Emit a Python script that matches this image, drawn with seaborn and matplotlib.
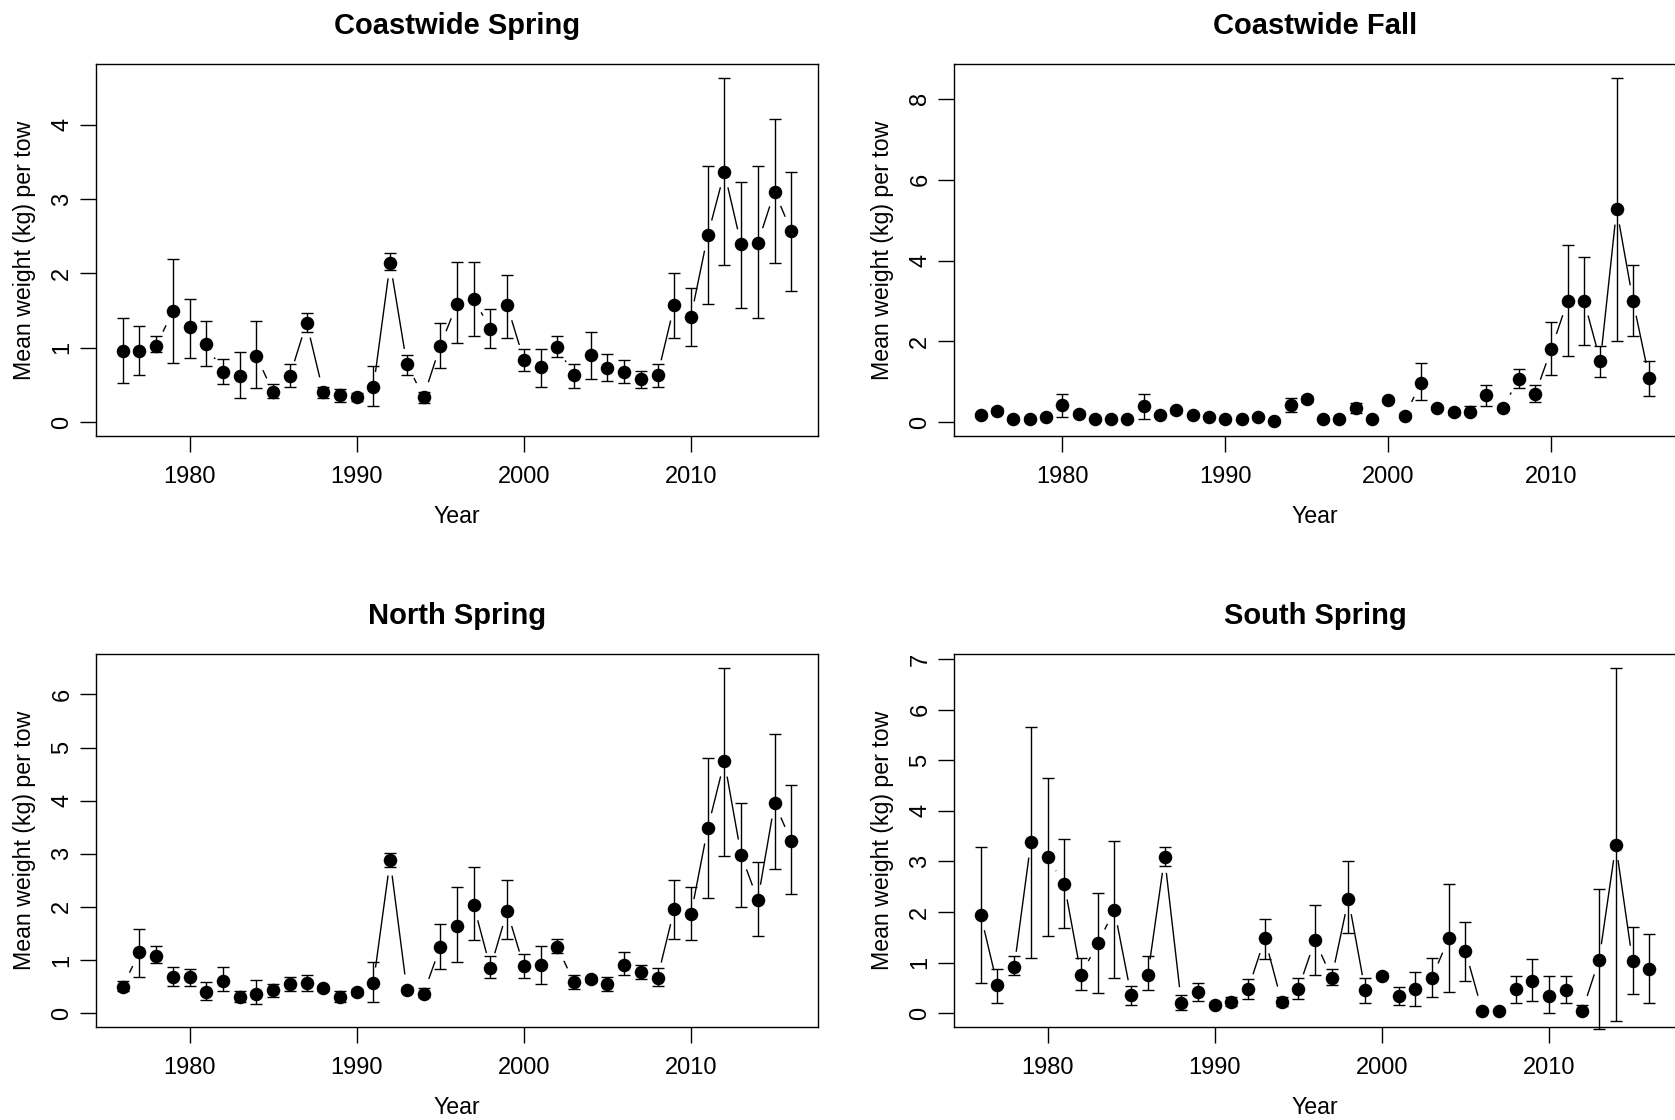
import numpy as np
import matplotlib
matplotlib.use('Agg')
import matplotlib.pyplot as plt
import seaborn as sns
from matplotlib.collections import LineCollection

# ---- data ----
years_spring = np.arange(1976, 2017)
years_fall = np.arange(1975, 2017)

cw_spring_mean = [0.96, 0.96, 1.03, 1.49, 1.28, 1.05, 0.67, 0.62, 0.89, 0.40,
                  0.62, 1.34, 0.40, 0.36, 0.34, 0.47, 2.14, 0.78, 0.34, 1.03,
                  1.59, 1.66, 1.25, 1.57, 0.84, 0.74, 1.01, 0.63, 0.90, 0.73,
                  0.68, 0.58, 0.63, 1.57, 1.42, 2.51, 3.36, 2.39, 2.41, 3.10, 2.57]
cw_spring_lo = [0.53, 0.63, 0.94, 0.80, 0.86, 0.75, 0.51, 0.32, 0.46, 0.32,
                0.48, 1.21, 0.33, 0.27, 0.29, 0.22, 2.04, 0.63, 0.26, 0.73,
                1.07, 1.16, 1.00, 1.13, 0.69, 0.48, 0.87, 0.46, 0.58, 0.56,
                0.53, 0.46, 0.48, 1.13, 1.03, 1.59, 2.12, 1.54, 1.40, 2.14, 1.76]
cw_spring_hi = [1.40, 1.30, 1.16, 2.20, 1.66, 1.36, 0.85, 0.95, 1.36, 0.51,
                0.78, 1.47, 0.47, 0.44, 0.39, 0.75, 2.27, 0.90, 0.40, 1.33,
                2.15, 2.15, 1.52, 1.98, 0.99, 0.99, 1.16, 0.78, 1.21, 0.92,
                0.83, 0.69, 0.78, 2.00, 1.81, 3.44, 4.63, 3.23, 3.44, 4.07, 3.37]

cw_fall_mean = [0.18, 0.28, 0.08, 0.08, 0.12, 0.43, 0.21, 0.07, 0.07, 0.07,
                0.39, 0.17, 0.29, 0.17, 0.12, 0.07, 0.07, 0.12, 0.02, 0.43,
                0.57, 0.07, 0.07, 0.35, 0.07, 0.55, 0.16, 0.97, 0.35, 0.25,
                0.25, 0.68, 0.35, 1.07, 0.69, 1.82, 3.01, 3.01, 1.51, 5.27,
                3.01, 1.09]
cw_fall_lo = [0.12, 0.22, 0.03, 0.03, 0.07, 0.14, 0.15, 0.03, 0.03, 0.03,
              0.08, 0.12, 0.23, 0.12, 0.07, 0.03, 0.03, 0.07, 0.00, 0.26,
              0.50, 0.03, 0.03, 0.22, 0.03, 0.49, 0.10, 0.54, 0.29, 0.19,
              0.20, 0.41, 0.29, 0.84, 0.49, 1.16, 1.65, 1.90, 1.11, 2.00,
              2.13, 0.66]
cw_fall_hi = [0.24, 0.34, 0.12, 0.12, 0.17, 0.70, 0.27, 0.11, 0.11, 0.11,
              0.70, 0.22, 0.35, 0.22, 0.17, 0.11, 0.11, 0.17, 0.06, 0.60,
              0.64, 0.11, 0.11, 0.47, 0.11, 0.61, 0.22, 1.46, 0.41, 0.31,
              0.39, 0.93, 0.41, 1.32, 0.93, 2.48, 4.38, 4.09, 1.89, 8.52,
              3.90, 1.51]

north_mean = [0.50, 1.15, 1.08, 0.68, 0.68, 0.40, 0.61, 0.30, 0.37, 0.44,
              0.55, 0.57, 0.47, 0.30, 0.40, 0.57, 2.88, 0.44, 0.37, 1.25,
              1.65, 2.03, 0.85, 1.92, 0.88, 0.91, 1.25, 0.58, 0.64, 0.55,
              0.91, 0.77, 0.67, 1.96, 1.86, 3.48, 4.74, 2.98, 2.13, 3.95, 3.24]
north_lo = [0.41, 0.69, 0.94, 0.52, 0.52, 0.24, 0.41, 0.21, 0.18, 0.31,
            0.41, 0.41, 0.42, 0.21, 0.35, 0.21, 2.75, 0.39, 0.30, 0.83,
            0.96, 1.37, 0.66, 1.39, 0.66, 0.55, 1.13, 0.45, 0.59, 0.41,
            0.72, 0.65, 0.52, 1.40, 1.37, 2.17, 2.96, 2.00, 1.46, 2.71, 2.25]
north_hi = [0.60, 1.59, 1.26, 0.86, 0.83, 0.59, 0.86, 0.41, 0.63, 0.55,
            0.69, 0.72, 0.52, 0.41, 0.45, 0.96, 3.01, 0.49, 0.47, 1.67,
            2.37, 2.75, 1.08, 2.51, 1.11, 1.26, 1.39, 0.72, 0.69, 0.68,
            1.16, 0.91, 0.85, 2.51, 2.37, 4.80, 6.50, 3.95, 2.85, 5.26, 4.29]

south_mean = [1.94, 0.55, 0.91, 3.38, 3.08, 2.55, 0.76, 1.38, 2.04, 0.35,
              0.76, 3.08, 0.21, 0.42, 0.17, 0.23, 0.48, 1.48, 0.23, 0.48,
              1.44, 0.70, 2.26, 0.45, 0.74, 0.34, 0.48, 0.70, 1.48, 1.23,
              0.05, 0.05, 0.48, 0.63, 0.34, 0.45, 0.05, 1.06, 3.33, 1.03, 0.88]
south_lo = [0.60, 0.21, 0.75, 1.09, 1.52, 1.68, 0.46, 0.40, 0.70, 0.17,
            0.46, 2.92, 0.07, 0.25, 0.12, 0.15, 0.28, 1.08, 0.14, 0.28,
            0.75, 0.56, 1.58, 0.21, 0.69, 0.17, 0.14, 0.32, 0.42, 0.64,
            0.02, 0.02, 0.21, 0.25, 0.00, 0.21, 0.00, -0.32, -0.15, 0.38, 0.21]
south_hi = [3.28, 0.88, 1.13, 5.66, 4.66, 3.45, 1.09, 2.37, 3.41, 0.53,
            1.13, 3.28, 0.35, 0.60, 0.22, 0.32, 0.68, 1.87, 0.32, 0.70,
            2.13, 0.88, 3.01, 0.70, 0.79, 0.52, 0.81, 1.10, 2.56, 1.81,
            0.08, 0.08, 0.74, 1.07, 0.74, 0.74, 0.17, 2.45, 6.83, 1.70, 1.56]

titles = ['Coastwide Spring', 'Coastwide Fall', 'North Spring', 'South Spring']
ytick_steps = [1, 2, 1, 1]

# ---- style ----
sns.set_theme(style="ticks")
plt.rcParams['font.family'] = ['Liberation Sans', 'DejaVu Sans']
plt.rcParams['text.color'] = 'black'
plt.rcParams['axes.labelcolor'] = 'black'

W, H = 1675, 1120
fig = plt.figure(figsize=(W / 100, H / 100), dpi=100)

# panel boxes in pixels: left, top, width, height
boxes = [(96, 64, 722, 372), (954, 64, 722, 372),
         (96, 654, 722, 373), (954, 654, 722, 373)]

panels = [
    (years_spring, cw_spring_mean, cw_spring_lo, cw_spring_hi),
    (years_fall, cw_fall_mean, cw_fall_lo, cw_fall_hi),
    (years_spring, north_mean, north_lo, north_hi),
    (years_spring, south_mean, south_lo, south_hi),
]


def gapped_line(ax, x, y, gap=15.5):
    # R type="b": line segments leave a gap around each point
    pts = ax.transData.transform(np.column_stack([x, y]))
    inv = ax.transData.inverted()
    segs = []
    for p0, p1 in zip(pts[:-1], pts[1:]):
        d = p1 - p0
        L = np.hypot(d[0], d[1])
        if L > 2 * gap:
            u = d / L
            segs.append(inv.transform(np.array([p0 + u * gap, p1 - u * gap])))
    ax.add_collection(LineCollection(segs, colors='black', linewidths=1.0, zorder=2))


for (l, t, w, h), (yrs, m, lo, hi), title, step in zip(boxes, panels, titles, ytick_steps):
    m, lo, hi = np.array(m), np.array(lo), np.array(hi)
    ax = fig.add_axes([l / W, 1 - (t + h) / H, w / W, h / H])

    xr = yrs.max() - yrs.min()
    ax.set_xlim(yrs.min() - 0.04 * xr, yrs.max() + 0.04 * xr)
    ymax = hi.max()
    ax.set_ylim(-0.04 * ymax, 1.04 * ymax)

    ax.errorbar(yrs, m, yerr=[m - lo, hi - m], fmt='none', ecolor='black',
                elinewidth=1.0, capsize=4.3, capthick=1.0, clip_on=False, zorder=2)
    gapped_line(ax, yrs, m)
    sns.scatterplot(x=yrs, y=m, ax=ax, color='black', s=95, linewidth=0,
                    zorder=3, legend=False)

    ax.set_xticks([1980, 1990, 2000, 2010])
    ax.set_yticks(np.arange(0, 1.04 * ymax + 1e-9, step))
    ax.tick_params(direction='out', length=11.3, width=1.0, labelsize=17,
                   colors='black', labelcolor='black', top=False, right=False)
    ax.tick_params(axis='x', pad=10)
    ax.tick_params(axis='y', pad=5, labelrotation=90)
    for lab in ax.get_yticklabels():
        lab.set_va('center')
    for s in ax.spines.values():
        s.set_linewidth(1.0)
        s.set_color('black')

    ax.set_xlabel('Year', fontsize=16.7, color='black')
    ax.xaxis.set_label_coords(0.5, -87 / h)
    ax.xaxis.label.set_va('baseline')
    ax.set_ylabel('Mean weight (kg) per tow', fontsize=16.7, color='black')
    ax.yaxis.set_label_coords(-(96 - 25) / 722, 0.5)
    ax.yaxis.label.set_va('center')

    ax.text(0.5, 1 + (64 - 34) / h, title, transform=ax.transAxes,
            ha='center', va='baseline', fontsize=21, fontweight='bold',
            color='black')

fig.savefig('out.png', dpi=100, facecolor='white')
